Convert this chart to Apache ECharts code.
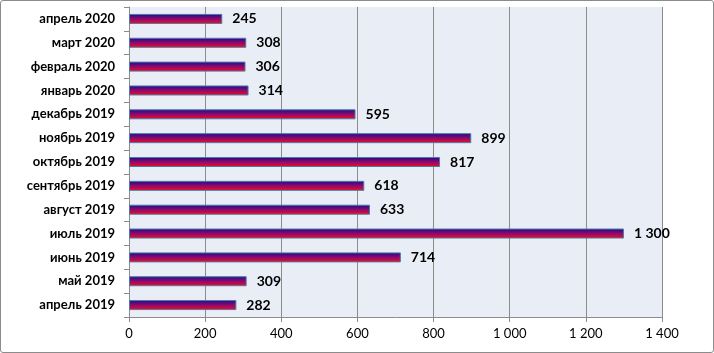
<!DOCTYPE html>
<html>
<head>
<meta charset="utf-8">
<script src="https://cdn.jsdelivr.net/npm/echarts@6/dist/echarts.min.js"></script>
<style>
  html, body { margin: 0; padding: 0; background: #fff; }
  #chart { width: 714px; height: 353px; box-sizing: border-box; border: 1px solid #8c8c8c; border-radius: 3px; }
</style>
</head>
<body>
<div id="chart"></div>
<script>
// категории снизу вверх
const months = ['апрель 2019', 'май 2019', 'июнь 2019', 'июль 2019', 'август 2019', 'сентябрь 2019',
  'октябрь 2019', 'ноябрь 2019', 'декабрь 2019', 'январь 2020', 'февраль 2020', 'март 2020', 'апрель 2020'];
const values = [282, 309, 714, 1300, 633, 618, 817, 899, 595, 314, 306, 308, 245];

const fmt = v => String(v).replace(/\B(?=(\d{3})+(?!\d))/g, ' ');

const chart = echarts.init(document.getElementById('chart'));
chart.setOption({
  animation: false,
  textStyle: { fontFamily: 'Lato, Open Sans, sans-serif' },
  grid: { left: 128, right: 51, top: 6, bottom: 35, backgroundColor: '#e9edf6', show: true, borderWidth: 0 },
  xAxis: {
    type: 'value',
    min: 0, max: 1400, interval: 200,
    axisLine: { show: true, lineStyle: { color: '#8c8c8c' } },
    axisTick: { show: true, length: 5, lineStyle: { color: '#8c8c8c' } },
    splitLine: { show: true, lineStyle: { color: '#8c8c8c', width: 1 } },
    axisLabel: { color: '#000', fontSize: 13, margin: 10, formatter: fmt }
  },
  yAxis: {
    type: 'category',
    data: months,
    axisLine: { show: true, lineStyle: { color: '#8c8c8c' } },
    axisTick: { show: true, length: 5, lineStyle: { color: '#8c8c8c' } },
    axisLabel: { color: '#000', fontSize: 13, fontWeight: 'bold', margin: 14 }
  },
  series: [{
    type: 'bar',
    data: values,
    barWidth: 10,
    itemStyle: {
      borderColor: '#4a7ba8',
      borderWidth: 1,
      color: new echarts.graphic.LinearGradient(0, 0, 0, 1, [
        { offset: 0, color: '#1c0a8a' },
        { offset: 0.5, color: '#8c0a70' },
        { offset: 1, color: '#ff0a14' }
      ])
    },
    label: {
      show: true, position: 'right', distance: 10,
      color: '#000', fontSize: 14, fontWeight: 'bold',
      formatter: p => fmt(p.value)
    }
  }]
});
</script>
</body>
</html>
